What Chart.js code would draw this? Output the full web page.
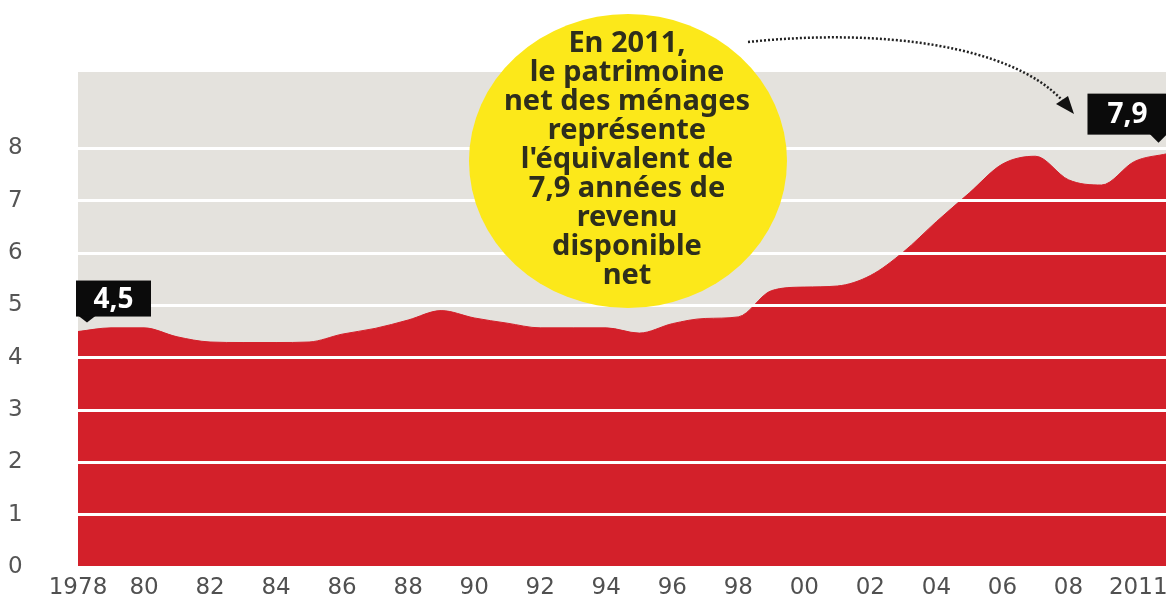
<!DOCTYPE html>
<html lang="fr">
<head>
<meta charset="utf-8">
<script src="https://cdn.jsdelivr.net/npm/chart.js@4/dist/chart.umd.min.js"></script>
<style>
  html, body { margin: 0; padding: 0; background: #ffffff; overflow: hidden; }
  #graphique { position: absolute; left: 0; top: 0; }
</style>
</head>
<body>
<canvas id="graphique" width="1233" height="609"></canvas>
<script>
// Données : patrimoine net des ménages en années de revenu disponible net
const annees = [1978, 1979, 1980, 1981, 1982, 1983, 1984, 1985, 1986, 1987, 1988, 1989,
                1990, 1991, 1992, 1993, 1994, 1995, 1996, 1997, 1998, 1999, 2000, 2001,
                2002, 2003, 2004, 2005, 2006, 2007, 2008, 2009, 2010, 2011];
const valeurs = [4.5, 4.57, 4.57, 4.4, 4.3, 4.29, 4.29, 4.3, 4.45, 4.56, 4.72, 4.9,
                 4.76, 4.66, 4.57, 4.57, 4.57, 4.47, 4.65, 4.75, 4.78, 5.28, 5.35, 5.37,
                 5.57, 6.02, 6.6, 7.15, 7.7, 7.85, 7.4, 7.3, 7.75, 7.9];

// Etiquettes des axes
const ticksX = [1978, 1980, 1982, 1984, 1986, 1988, 1990, 1992, 1994, 1996, 1998,
                2000, 2002, 2004, 2006, 2008, 2011];
const ticksY = [0, 1, 2, 3, 4, 5, 6, 7, 8];

// Texte de la bulle jaune
const texteBulle = ["En 2011,", "le patrimoine", "net des ménages", "représente",
                    "l'équivalent de", "7,9 années de", "revenu", "disponible", "net"];

const rouge = '#d3202a';
const policeAxes = '"DejaVu Sans", sans-serif';
const policeBulle = '"Noto Sans", "Open Sans", sans-serif';

// Fond gris de la zone de tracé
const fondGris = {
    id: 'fondGris',
    beforeDraw(chart) {
        const { ctx, chartArea: a } = chart;
        ctx.save();
        ctx.fillStyle = '#e4e2dd';
        ctx.fillRect(a.left, a.top, a.right - a.left, a.bottom - a.top);
        ctx.restore();
    }
};

// Etiquette noire avec pointe (ex : 4,5 et 7,9)
function etiquette(ctx, texte, gauche, haut, largeur, hauteur, pointeX, pointeY) {
    ctx.fillStyle = '#0b0b0b';
    ctx.fillRect(gauche, haut, largeur, hauteur);
    ctx.beginPath();
    ctx.moveTo(pointeX - 9, haut + hauteur - 1);
    ctx.lineTo(pointeX + 9, haut + hauteur - 1);
    ctx.lineTo(pointeX, pointeY);
    ctx.closePath();
    ctx.fill();
    ctx.fillStyle = '#ffffff';
    ctx.font = 'bold 28px ' + policeBulle;
    ctx.textAlign = 'center';
    ctx.textBaseline = 'middle';
    ctx.fillText(texte, gauche + largeur / 2, haut + hauteur / 2 + 1);
}

const annotations = {
    id: 'annotations',
    afterDraw(chart) {
        const { ctx } = chart;
        const x = chart.scales.x, y = chart.scales.y;
        ctx.save();

        // Etiquettes de début et de fin
        const x0 = x.getPixelForValue(annees[0]);
        const y0 = y.getPixelForValue(valeurs[0]);
        etiquette(ctx, '4,5', x0 - 2, y0 - 51, 75, 36, x0 + 9, y0 - 9);
        const x1 = x.getPixelForValue(annees[annees.length - 1]);
        const y1 = y.getPixelForValue(valeurs[valeurs.length - 1]);
        etiquette(ctx, '7,9', x1 - 80, y1 - 60, 80, 41, x1 - 9, y1 - 11);

        // Flèche pointillée
        ctx.strokeStyle = '#222222';
        ctx.lineWidth = 2.5;
        ctx.setLineDash([2, 2]);
        ctx.beginPath();
        ctx.moveTo(748, 42);
        ctx.bezierCurveTo(880, 28, 1010, 45, 1062, 100);
        ctx.stroke();
        ctx.setLineDash([]);
        ctx.fillStyle = '#111111';
        ctx.beginPath();
        ctx.moveTo(1074, 114);
        ctx.lineTo(1056, 104);
        ctx.lineTo(1068, 96);
        ctx.closePath();
        ctx.fill();

        // Bulle jaune
        ctx.fillStyle = '#fce81a';
        ctx.beginPath();
        ctx.ellipse(628, 161, 159, 147, 0, 0, Math.PI * 2);
        ctx.fill();
        ctx.fillStyle = '#2e2e1c';
        ctx.font = 'bold 29px ' + policeBulle;
        ctx.textAlign = 'center';
        ctx.textBaseline = 'middle';
        texteBulle.forEach((ligne, i) => {
            ctx.fillText(ligne, 627, 44 + i * 29);
        });
        ctx.restore();
    }
};

const points = annees.map((a, i) => ({ x: a, y: valeurs[i] }));

// l'étiquette 2011 est décalée vers la gauche comme sur l'original
function etiquetteX(v) {
    if (v === 1978) return '1978';
    if (v === 2011) return '2011' + '\u00a0'.repeat(8);
    return String(v).slice(2);
}

new Chart(document.getElementById('graphique'), {
    type: 'line',
    data: {
        datasets: [{
            data: points,
            fill: 'origin',
            backgroundColor: rouge,
            borderColor: rouge,
            borderWidth: 1,
            pointRadius: 0,
            cubicInterpolationMode: 'monotone'
        }]
    },
    options: {
        responsive: false,
        animation: false,
        layout: { padding: { top: 72, bottom: 4, left: 8 } },
        plugins: {
            legend: { display: false },
            tooltip: { enabled: false }
        },
        scales: {
            x: {
                type: 'linear',
                min: 1978,
                max: 2011,
                afterBuildTicks: (s) => { s.ticks = ticksX.map(v => ({ value: v })); },
                afterFit: (s) => { s.height = 38; },
                grid: { display: false, drawTicks: false },
                border: { display: false },
                ticks: {
                    autoSkip: false,
                    maxRotation: 0,
                    padding: 7,
                    color: '#505050',
                    font: { family: policeAxes, size: 23 },
                    callback: etiquetteX
                }
            },
            y: {
                min: 0,
                max: 9.46,
                afterBuildTicks: (s) => { s.ticks = ticksY.map(v => ({ value: v })); },
                afterFit: (s) => { s.width = 70; },
                grid: { color: '#ffffff', lineWidth: 3, drawTicks: false, z: 1 },
                border: { display: false },
                ticks: {
                    crossAlign: 'far',
                    padding: 0,
                    color: '#555555',
                    font: { family: policeAxes, size: 23 }
                }
            }
        }
    },
    plugins: [fondGris, annotations]
});
</script>
</body>
</html>
